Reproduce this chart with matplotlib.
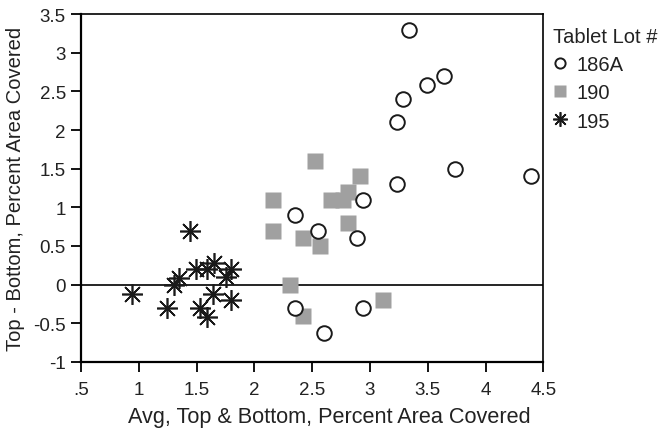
import numpy as np
import matplotlib
matplotlib.use('Agg')
import matplotlib.pyplot as plt
from matplotlib.ticker import FixedLocator

plt.rcParams['font.family'] = ['Liberation Sans', 'DejaVu Sans']

# ── Data ──
lot_186a_x = [3.34, 3.64, 3.49, 3.29, 3.23, 3.74, 3.23, 4.39, 2.94, 2.35, 2.55, 2.89, 2.35, 2.94, 2.60]
lot_186a_y = [3.30, 2.70, 2.58, 2.40, 2.10, 1.50, 1.30, 1.40, 1.10, 0.90, 0.70, 0.60, -0.30, -0.30, -0.62]

lot_190_x = [2.52, 2.91, 2.16, 2.66, 2.77, 2.81, 2.16, 2.42, 2.57, 2.81, 2.31, 2.42, 3.11]
lot_190_y = [1.60, 1.40, 1.10, 1.10, 1.10, 1.20, 0.70, 0.60, 0.50, 0.80, 0.00, -0.40, -0.20]

lot_195_x = [1.44, 0.94, 1.24, 1.30, 1.35, 1.49, 1.59, 1.65, 1.80, 1.75, 1.64, 1.53, 1.59, 1.80]
lot_195_y = [0.70, -0.12, -0.30, 0.00, 0.08, 0.20, 0.20, 0.28, 0.20, 0.10, -0.12, -0.30, -0.42, -0.20]

x_ticks = [0.5, 1, 1.5, 2, 2.5, 3, 3.5, 4, 4.5]
x_tick_labels = ['.5', '1', '1.5', '2', '2.5', '3', '3.5', '4', '4.5']
y_ticks = [-1, -0.5, 0, 0.5, 1, 1.5, 2, 2.5, 3, 3.5]
y_tick_labels = ['-1', '-0.5', '0', '0.5', '1', '1.5', '2', '2.5', '3', '3.5']

# ── Figure ──
fig = plt.figure(figsize=(6.65, 4.31), dpi=100)
ax = fig.add_axes([0.122, 0.158, 0.695, 0.807])

ax.axhline(0, color='black', linewidth=1.2, zorder=1)

ax.plot(lot_186a_x, lot_186a_y, linestyle='none', marker='o', markersize=10.5,
        markerfacecolor='white', markeredgecolor='#1a1a1a', markeredgewidth=1.4,
        label='186A', zorder=3)
ax.plot(lot_190_x, lot_190_y, linestyle='none', marker='s', markersize=11.5,
        markerfacecolor='#a0a0a0', markeredgecolor='none',
        label='190', zorder=2)
ax.plot(lot_195_x, lot_195_y, linestyle='none', marker=(8, 2, 0), markersize=15,
        color='#1a1a1a', markeredgewidth=1.2, label='195', zorder=4)

ax.set_xlim(0.5, 4.5)
ax.set_ylim(-1, 3.5)
ax.xaxis.set_major_locator(FixedLocator(x_ticks))
ax.set_xticklabels(x_tick_labels)
ax.yaxis.set_major_locator(FixedLocator(y_ticks))
ax.set_yticklabels(y_tick_labels)
ax.tick_params(direction='out', length=7, width=1.3, labelsize=13.5, colors='black',
               labelcolor='#222222')
ax.tick_params(axis='x', pad=7)
ax.tick_params(axis='y', pad=4)

for side in ['left', 'bottom']:
    ax.spines[side].set_linewidth(1.6)
for side in ['top', 'right']:
    ax.spines[side].set_linewidth(1.2)

ax.set_xlabel('Avg, Top & Bottom, Percent Area Covered', fontsize=15.6, color='#222222')
ax.xaxis.set_label_coords(0.537, -0.128)
ax.set_ylabel('Top - Bottom, Percent Area Covered', fontsize=14.5, color='#222222', labelpad=6)

# ── Legend (outside, right) ──
leg = ax.legend(loc='upper left', bbox_to_anchor=(1.004, 0.985), title='Tablet Lot #',
                frameon=False, fontsize=14.5, title_fontsize=14.5, handletextpad=0.45,
                handlelength=0.7, borderaxespad=0.0, labelspacing=0.45, markerscale=0.7)
leg._legend_box.align = 'left'
for t in leg.get_texts():
    t.set_color('#222222')
leg.get_title().set_color('#222222')

fig.savefig('out.png', dpi=100, facecolor='white')
